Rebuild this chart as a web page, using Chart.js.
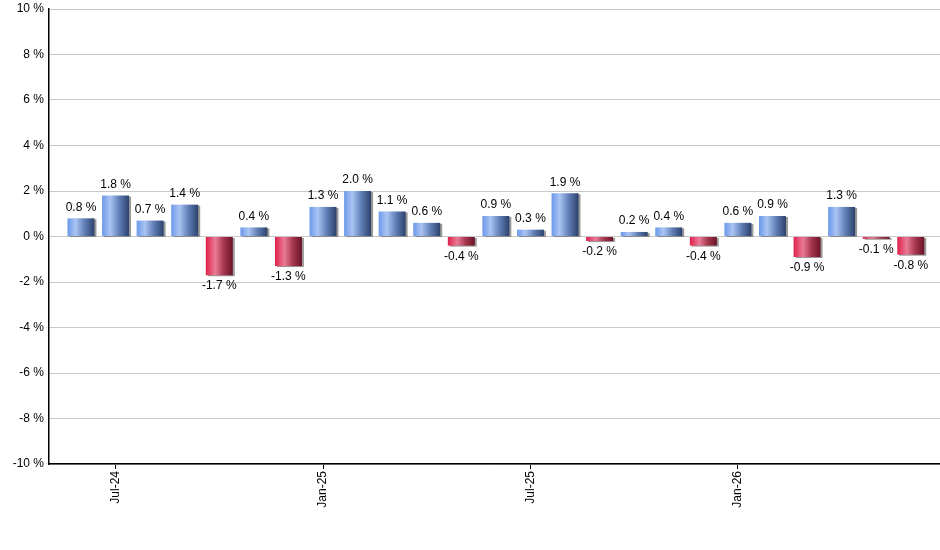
<!DOCTYPE html>
<html>
<head>
<meta charset="utf-8">
<script src="https://cdn.jsdelivr.net/npm/chart.js@4/dist/chart.umd.min.js"></script>
<style>
    html, body { margin: 0; padding: 0; background: #fff; }
    #wrap { width: 940px; height: 550px; }
</style>
</head>
<body>
<div id="wrap"><canvas id="returnsChart"></canvas></div>
<script>
const months = ['Jun-24', 'Jul-24', 'Aug-24', 'Sep-24', 'Oct-24', 'Nov-24', 'Dec-24',
    'Jan-25', 'Feb-25', 'Mar-25', 'Apr-25', 'May-25', 'Jun-25', 'Jul-25', 'Aug-25',
    'Sep-25', 'Oct-25', 'Nov-25', 'Dec-25', 'Jan-26', 'Feb-26', 'Mar-26', 'Apr-26',
    'May-26', 'Jun-26'];
const returns = [0.8, 1.8, 0.7, 1.4, -1.7, 0.4, -1.3, 1.3, 2.0, 1.1, 0.6, -0.4, 0.9,
    0.3, 1.9, -0.2, 0.2, 0.4, -0.4, 0.6, 0.9, -0.9, 1.3, -0.1, -0.8];
const yTicks = [-10, -8, -6, -4, -2, 0, 2, 4, 6, 8, 10];

const BAR_PCT = 0.78;

// paint each bar with a horizontal "cylinder" gradient + small grey drop shadow
const barStyle = {
    id: 'barStyle',
    beforeDatasetsDraw(chart) {
        const ctx = chart.ctx;
        const meta = chart.getDatasetMeta(0);
        meta.data.forEach((bar, i) => {
            const half = bar.width / 2;
            if (!isFinite(bar.x) || !isFinite(half)) return;
            const g = ctx.createLinearGradient(bar.x - half, 0, bar.x + half, 0);
            if (returns[i] >= 0) {
                g.addColorStop(0, '#6b98ea');
                g.addColorStop(0.3, '#aac4f3');
                g.addColorStop(0.65, '#5e7cb4');
                g.addColorStop(1, '#2c426c');
            } else {
                g.addColorStop(0, '#de1f4a');
                g.addColorStop(0.35, '#ea7b96');
                g.addColorStop(0.65, '#a8394f');
                g.addColorStop(1, '#6a1226');
            }
            bar.options = Object.assign({}, bar.options, { backgroundColor: g });
        });
        ctx.save();
        ctx.shadowColor = 'rgba(110,110,110,0.7)';
        ctx.shadowOffsetX = 2;
        ctx.shadowOffsetY = 1;
        ctx.shadowBlur = 0;
    },
    afterDatasetsDraw(chart) {
        chart.ctx.restore();
    }
};

const valueLabels = {
    id: 'valueLabels',
    afterDraw(chart) {
        const ctx = chart.ctx;
        const meta = chart.getDatasetMeta(0);
        ctx.save();
        ctx.font = '12px "Liberation Sans", Arial, sans-serif';
        ctx.fillStyle = '#000';
        ctx.textAlign = 'center';
        meta.data.forEach((bar, i) => {
            const v = returns[i];
            const txt = v.toFixed(1) + ' %';
            if (v >= 0) {
                ctx.textBaseline = 'bottom';
                ctx.fillText(txt, bar.x, bar.y - 5);
            } else {
                ctx.textBaseline = 'top';
                ctx.fillText(txt, bar.x, bar.y + 5);
            }
        });
        ctx.restore();
    }
};

const tickIdx = months.map((m, i) => i).filter(i => /^(Jan|Jul)/.test(months[i]));

const ctxReturns = document.getElementById('returnsChart').getContext('2d');
new Chart(ctxReturns, {
    type: 'bar',
    data: {
        datasets: [{
            data: returns.map((v, i) => ({ x: i, y: v })),
            backgroundColor: '#6b98ea',
            borderWidth: 0,
            barPercentage: BAR_PCT,
            categoryPercentage: 1
        }]
    },
    options: {
        responsive: true,
        maintainAspectRatio: false,
        animation: false,
        layout: { padding: { top: 9, left: 0, right: 0, bottom: 0 } },
        plugins: {
            legend: { display: false },
            tooltip: { enabled: false }
        },
        scales: {
            x: {
                type: 'linear',
                min: -0.925,
                max: 24.845,
                offset: false,
                afterBuildTicks(scale) {
                    scale.ticks = tickIdx.map(i => ({ value: i }));
                },
                afterFit(scale) {
                    scale.height = 86;
                    scale.paddingLeft = 0;
                    scale.paddingRight = 0;
                },
                grid: {
                    offset: false,
                    drawOnChartArea: false,
                    drawTicks: true,
                    tickLength: 5,
                    color: '#000'
                },
                border: { display: true, color: '#000', width: 1.5 },
                ticks: {
                    autoSkip: false,
                    minRotation: 90,
                    maxRotation: 90,
                    padding: 2,
                    color: '#000',
                    font: { family: '"Liberation Sans", Arial, sans-serif', size: 12 },
                    callback: v => months[v]
                }
            },
            y: {
                min: -10,
                max: 10,
                afterBuildTicks(scale) {
                    scale.ticks = yTicks.map(v => ({ value: v }));
                },
                afterFit(scale) {
                    scale.width = 49;
                    scale.paddingTop = 0;
                    scale.paddingBottom = 0;
                },
                grid: {
                    color: '#c8c8c8',
                    drawTicks: false
                },
                border: { display: true, color: '#000', width: 1.5 },
                ticks: {
                    padding: 5,
                    color: '#000',
                    font: { family: '"Liberation Sans", Arial, sans-serif', size: 12 },
                    callback: v => v + ' %'
                }
            }
        }
    },
    plugins: [barStyle, valueLabels]
});
</script>
</body>
</html>
